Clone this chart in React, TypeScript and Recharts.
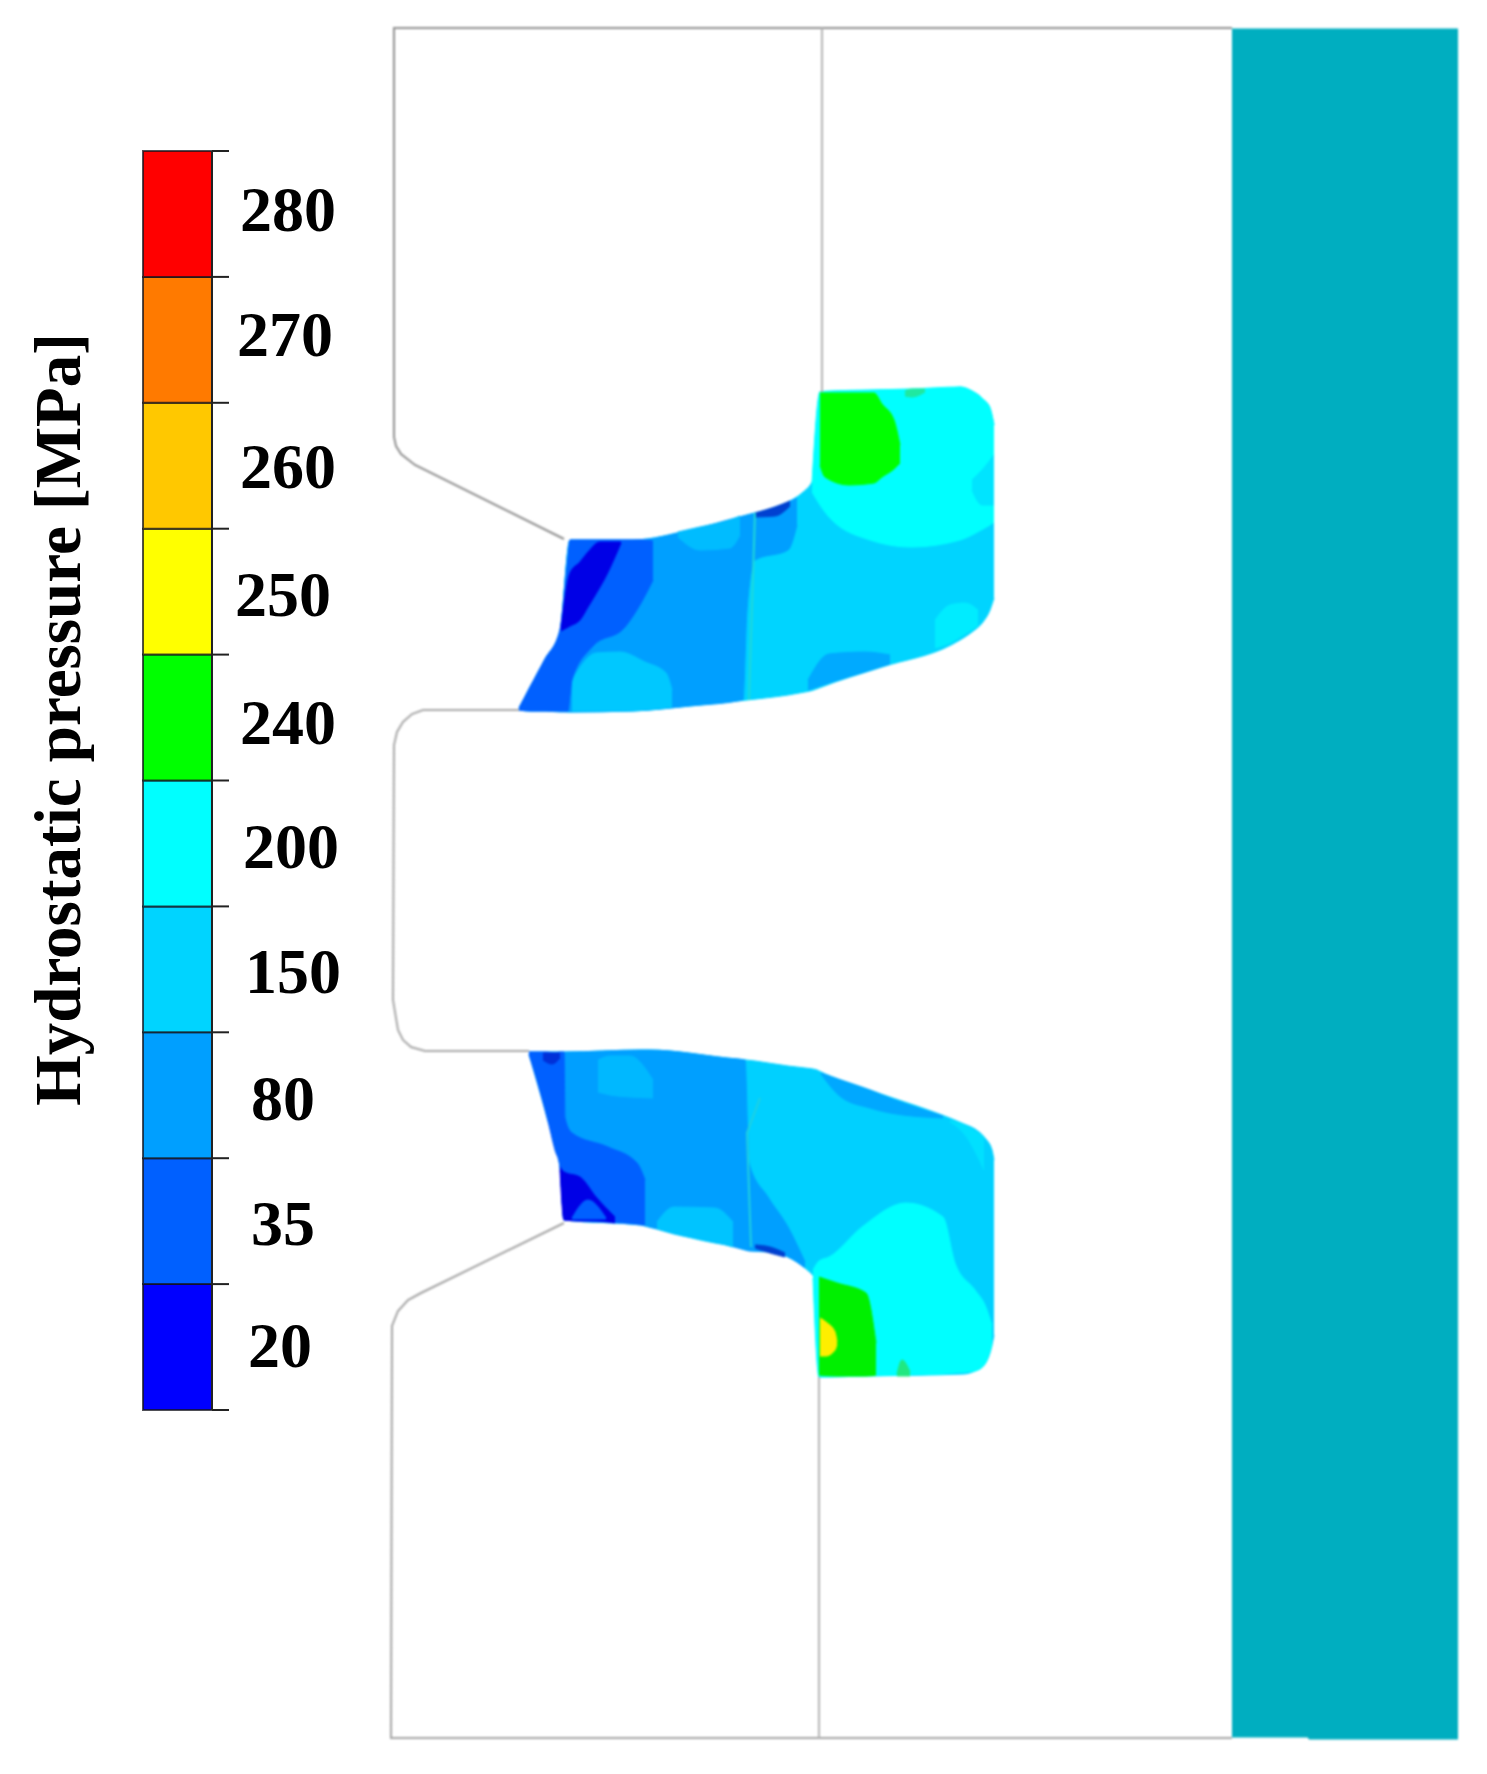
import React from "react";
import { Area, Bar, BarChart, ComposedChart, Label, LabelList, Line, XAxis, YAxis } from "recharts";

// Colour scale of the legend, bottom to top
const pressureLevels = ["20", "35", "80", "150", "200", "240", "250", "260", "270", "280"];
const levelColors = ["#0000ff", "#0060ff", "#009fff", "#00d4ff", "#00ffff", "#00ff00", "#ffff00", "#ffc800", "#ff7a00", "#ff0000"];
const levelRow = [Object.fromEntries(pressureLevels.map((l) => [l, 1]))];
const axisTitle = "Hydrostatic pressure [MPa]";
const levelTicks = [0, 1, 2, 3, 4, 5, 6, 7, 8, 9, 10];

// Section contours: [x, upper edge, lower edge] in image units
const upperBase = [[519,708,710],[530,687,711],[545,659,711],[560,630,711],[570,540,712],[633,540,711],[690,530,706],[747,515,700],[788,502,695],[802,493,692.5],[812,482,690.5],[819,465,688],[819.5,392,687.8],[882,390,667],[951,388,645],[960,387,640],[972,391,632],[983,399,622],[990,408,610],[994,425,598]];
const upper200 = [[812,483,492],[820,392,505],[829,391,517],[870,390,540],[911,389,547],[960,387,540],[972,391,535],[983,399,529],[990,408,525],[994,425,522]];
const upperNotch = [[972,480,490],[982,470,505],[994,455,505]];
const upper240 = [[820,393,465],[825,393,477],[849,393,485],[874,393,483],[882,404,477],[894,420,469],[900,445,463]];
const upperSpeck = [[905,391,396],[912,389,397],[925,389,392]];
const upper80 = [[519,708,710],[530,687,711],[545,659,711],[560,630,712],[570,540,712],[633,540,711],[690,530,706],[743,516,700],[747,515,610],[755,513,560],[788,502,550],[797,498,525]];
const upper80b = [[808,680,690],[829,654,683],[865,652,672],[890,655,664]];
const upperBlobA = [[678,532,537],[700,527,550],[730,520,548],[740,516,535]];
const upperBlobB = [[572,680,711],[596,653,711],[620,652,711],[645,662,710],[666,673,708],[672,690,707]];
const upperBlobC = [[935,620,648],[950,605,643],[965,603,634],[978,610,626]];
const upper35 = [[519,708,710],[530,687,711],[545,659,711],[560,630,711],[568,558,711],[570,540,695],[572,540,680],[592,540,647],[625,540,627],[641,540,603],[653,541,580]];
const upper20 = [[561,628,631],[570,573,626],[580,562,620],[588,552,607],[600,542,587],[604,542,580],[621,542,543]];
const upperEdge = [[755,513,517],[775,507,516],[790,501,506]];

const lowerBase = [[529,1052,1054],[547,1052,1117],[560,1052,1167],[564,1052,1220],[641,1050,1225],[649,1050,1227],[727,1058,1245],[755,1061,1248],[788,1066,1257],[805,1068,1268],[817,1070,1283],[819,1071,1377],[870,1090,1376],[964,1124,1374],[975,1129,1371],[985,1138,1364],[992,1150,1345],[994,1160,1335]];
const lower200 = [[813,1270,1278],[819,1261,1377],[829,1257,1377],[862,1227,1376],[906,1203,1375],[943,1217,1374],[955,1263,1373],[975,1290,1371],[985,1305,1364],[992,1325,1345]];
const lower240 = [[819,1277,1375],[837,1283,1376],[866,1293,1376],[876,1343,1375]];
const lower240b = [[897,1374,1376],[902,1360,1376],[910,1372,1376]];
const lower250 = [[820,1318,1356],[826,1322,1356],[835,1332,1350],[837,1342,1344]];
const lower80 = [[529,1052,1054],[547,1052,1117],[560,1052,1167],[564,1052,1220],[641,1050,1225],[649,1050,1227],[727,1058,1245],[745,1060,1250],[749,1163,1251],[768,1197,1252],[788,1227,1257],[805,1262,1268]];
const lower80b = [[821,1073,1074],[841,1080,1097],[870,1090,1108],[890,1098,1113],[943,1116,1118]];
const lowerBlobA = [[598,1060,1092],[610,1056,1095],[630,1056,1097],[653,1080,1098]];
const lowerBlobB = [[657,1222,1229],[674,1207,1234],[715,1208,1242],[733,1222,1247]];
const lowerBlobC = [[950,1120,1122],[965,1125,1135],[984,1137,1170]];
const lower35 = [[529,1052,1054],[547,1052,1117],[555,1053,1150],[560,1052,1167],[564,1052,1220],[565,1118,1220],[572,1133,1220],[608,1147,1222],[637,1163,1224],[645,1180,1225]];
const lower20 = [[560,1167,1170],[564,1172,1220],[580,1177,1221],[596,1197,1221],[615,1217,1223]];
const lower35b = [[572,1218,1219],[588,1200,1219],[606,1218,1219]];
const lowerSpot = [[543,1053,1060],[552,1053,1064],[560,1053,1058]];
const lowerEdge = [[755,1245,1248],[770,1247,1253],[785,1253,1257]];

// Rigid band on the right: [x, upper edge, lower edge]
const tealBand = [[1232,29,1737],[1308,29,1737],[1309,29,1739],[1458,29,1739]];

// Tool outlines: [x, y]
const outlineUpperDie = [[1232,28],[394,28],[394,437],[396,446],[401,454],[415,465],[564,539]];
const outlineCentreTop = [[822,28],[822,392]];
const outlineMiddleDie = [[519,710],[423,710],[412,714],[403,722],[397,732],[394,745],[393,1000],[398,1030],[403,1040],[411,1047],[425,1051],[529,1051]];
const outlineLowerDie = [[564,1223],[421,1293],[408,1300],[398,1311],[392,1326],[391,1738],[1232,1738]];
const outlineCentreBottom = [[819,1377],[819,1738]];
const crackUpper = [[755,513],[749,700]];
const crackLower = [[760,1098],[747,1133],[751,1247]];

const toBand = (rows: number[][]) => rows.map(([x, lo, hi]) => ({ x, band: [lo, hi] }));
const toPath = (rows: number[][]) => rows.map(([x, y]) => ({ x, y }));

const layers: [number[][], string][] = [
  [upperBase, "#00d4ff"],
  [upper80, "#009fff"],
  [upper80b, "#00aaff"],
  [upperBlobA, "#00bcff"],
  [upperBlobB, "#00c8ff"],
  [upper35, "#0060ff"],
  [upper20, "#0000e6"],
  [upperEdge, "#0040d0"],
  [upper200, "#00ffff"],
  [upperNotch, "#00e4ff"],
  [upper240, "#00ff00"],
  [upperSpeck, "#20e8a0"],
  [upperBlobC, "#00ecff"],
  [lowerBase, "#00d0ff"],
  [lower80, "#009fff"],
  [lower80b, "#00a8ff"],
  [lowerBlobA, "#00b8ff"],
  [lowerBlobB, "#00c4ff"],
  [lower35, "#0060ff"],
  [lower20, "#0000e6"],
  [lower35b, "#0060ff"],
  [lowerSpot, "#0030d8"],
  [lowerEdge, "#0040d0"],
  [lowerBlobC, "#00e0ff"],
  [lower200, "#00ffff"],
  [lower240, "#00f000"],
  [lower240b, "#20e880"],
  [lower250, "#ffee00"],
];

const paths: [number[][], string][] = [
  [outlineUpperDie, "#909090"],
  [outlineCentreTop, "#b4b4b4"],
  [outlineMiddleDie, "#a8a8a8"],
  [outlineLowerDie, "#a4a4a4"],
  [outlineCentreBottom, "#b4b4b4"],
  [crackUpper, "#20d8d8"],
  [crackLower, "#20d0e0"],
];

const W = 1487;
const H = 1774;
const serif = "'Liberation Serif', serif";
const labelShift: Record<string, [number, number]> = {
  "20": [-6, -2], "35": [-3, 2], "80": [-3, 3], "150": [7, 2], "200": [5, 3],
  "240": [2, 5], "250": [-3, 3], "260": [2, 1], "270": [-1, -5], "280": [2, -4],
};

const LevelLabel = (level: string) => (props: any) => {
  const { x, y, width, height } = props;
  const [dx, dy] = labelShift[level];
  return (
    <text x={x + width + 74 + dx} y={y + height / 2 + dy} textAnchor="middle" dominantBaseline="central"
      fontFamily={serif} fontWeight="bold" fontSize={64} fill="#000">
      {level}
    </text>
  );
};

const NoTickText = () => <g />;

export default function App() {
  return (
    <div style={{ position: "absolute", left: 0, top: 0, width: W, height: H, background: "#fff" }}>
      <div style={{ position: "absolute", left: 0, top: 0, filter: "blur(1.3px)" }}>
        <ComposedChart width={W} height={H} margin={{ top: 0, right: 0, bottom: 0, left: 0 }}>
          <XAxis dataKey="x" type="number" domain={[0, W]} hide />
          <YAxis type="number" domain={[0, H]} reversed hide />
          <Area data={toBand(tealBand)} dataKey="band" type="linear" fill="#00aec0" fillOpacity={1}
            stroke="#00aec0" strokeWidth={1} dot={false} activeDot={false} isAnimationActive={false} />
          {layers.map(([rows, color], i) => (
            <Area key={i} data={toBand(rows)} dataKey="band" type="monotone" fill={color} fillOpacity={1}
              stroke={color} strokeWidth={1} dot={false} activeDot={false} isAnimationActive={false} />
          ))}
          {paths.map(([rows, color], i) => (
            <Line key={i} data={toPath(rows)} dataKey="y" type="linear" stroke={color} strokeWidth={2}
              dot={false} activeDot={false} isAnimationActive={false} />
          ))}
        </ComposedChart>
      </div>
      <div style={{ position: "absolute", left: 0, top: 0 }}>
        <BarChart width={420} height={H} data={levelRow} barCategoryGap={0}
          margin={{ top: 151, right: 0, bottom: 364, left: 0 }}>
          <XAxis type="category" hide />
          <YAxis yAxisId="title" orientation="left" width={143} type="number" domain={[0, 10]} ticks={[]} axisLine={false} tickLine={false} tick={false}>
            <Label value={axisTitle} angle={-90} position="insideLeft" dx={52} dy={-61}
              style={{ fontFamily: serif, fontWeight: "bold", fontSize: 65, fill: "#000", textAnchor: "middle" }} />
          </YAxis>
          <YAxis yAxisId="levels" orientation="right" width={208} type="number" domain={[0, 10]} ticks={levelTicks}
            tick={NoTickText} tickSize={17} tickLine={{ stroke: "#222", strokeWidth: 2 }} axisLine={{ stroke: "#222", strokeWidth: 2 }} interval={0} />
          {pressureLevels.map((level, i) => (
            <Bar key={level} yAxisId="levels" dataKey={level} stackId="scale" fill={levelColors[i]}
              stroke="rgba(20,20,30,0.75)" strokeWidth={2} isAnimationActive={false}>
              <LabelList content={LevelLabel(level)} />
            </Bar>
          ))}
        </BarChart>
      </div>
    </div>
  );
}
